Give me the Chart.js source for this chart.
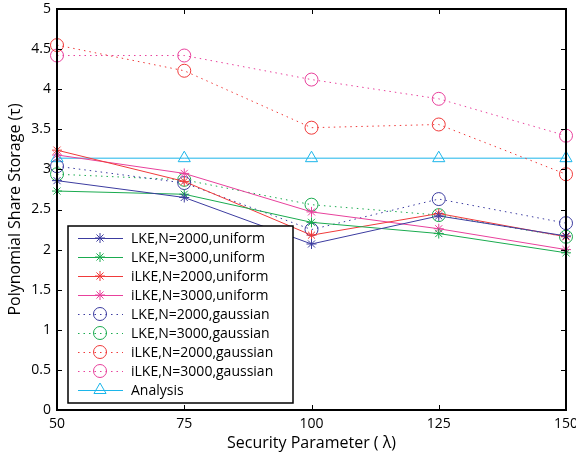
<!DOCTYPE html>
<html lang="en">
<head>
  <meta charset="UTF-8">
  <title>Polynomial Share Storage</title>
  <script src="https://cdn.jsdelivr.net/npm/chart.js"></script>
  <style>
    html, body { margin: 0; padding: 0; background: #fff; }
  </style>
</head>
<body>
  <canvas id="chart" width="576" height="460"></canvas>
  <script>
    // data
    const lambdas = [50, 75, 100, 125, 150];
    const yTicks = [0, 0.5, 1, 1.5, 2, 2.5, 3, 3.5, 4, 4.5, 5];

    const lkeUni2000  = [2.86, 2.65, 2.07, 2.42, 2.17];
    const lkeUni3000  = [2.73, 2.69, 2.34, 2.20, 1.96];
    const ilkeUni2000 = [3.24, 2.85, 2.18, 2.45, 2.16];
    const ilkeUni3000 = [3.18, 2.95, 2.47, 2.26, 2.00];
    const lkeGau2000  = [3.04, 2.83, 2.25, 2.63, 2.33];
    const lkeGau3000  = [2.94, 2.87, 2.56, 2.43, 2.16];
    const ilkeGau2000 = [4.55, 4.23, 3.52, 3.56, 2.94];
    const ilkeGau3000 = [4.42, 4.42, 4.12, 3.88, 3.42];
    const analysis    = [3.14, 3.14, 3.14, 3.14, 3.14];

    const BLUE = '#3c3ca0', GREEN = '#1aab4f', RED = '#f03a3a', MAGENTA = '#e8419c', CYAN = '#1cb6ea';
    const FONT = '"Open Sans", "DejaVu Sans", sans-serif';

    const pts = vals => vals.map((v, i) => ({ x: lambdas[i], y: v }));

    function series(label, vals, color, kind) {
      const ds = {
        label: label,
        data: pts(vals),
        borderColor: color,
        backgroundColor: 'rgba(0,0,0,0)',
        pointBorderColor: color,
        pointBackgroundColor: 'rgba(0,0,0,0)',
        borderWidth: 1,
        pointBorderWidth: 1,
        tension: 0,
        clip: false
      };
      if (kind === 'star') {
        ds.pointStyle = 'star';
        ds.pointRadius = 5;
      } else if (kind === 'circle') {
        ds.pointStyle = 'circle';
        ds.pointRadius = 6.5;
        ds.borderDash = [1.5, 4];
      } else {
        ds.pointStyle = 'triangle';
        ds.pointRadius = 7;
      }
      return ds;
    }

    const datasets = [
      series('LKE,N=2000,uniform', lkeUni2000, BLUE, 'star'),
      series('LKE,N=3000,uniform', lkeUni3000, GREEN, 'star'),
      series('iLKE,N=2000,uniform', ilkeUni2000, RED, 'star'),
      series('iLKE,N=3000,uniform', ilkeUni3000, MAGENTA, 'star'),
      series('LKE,N=2000,gaussian', lkeGau2000, BLUE, 'circle'),
      series('LKE,N=3000,gaussian', lkeGau3000, GREEN, 'circle'),
      series('iLKE,N=2000,gaussian', ilkeGau2000, RED, 'circle'),
      series('iLKE,N=3000,gaussian', ilkeGau3000, MAGENTA, 'circle'),
      series('Analysis', analysis, CYAN, 'triangle')
    ];

    // box, inward ticks on all four sides, and the boxed legend
    const matlabFrame = {
      id: 'matlabFrame',
      afterDraw(chart) {
        const ctx = chart.ctx;
        const a = chart.chartArea;
        const xs = chart.scales.x, ys = chart.scales.y;
        ctx.save();
        ctx.strokeStyle = '#000';
        ctx.lineWidth = 1;
        const tl = 5;
        ctx.beginPath();
        lambdas.forEach(v => {
          const px = Math.round(xs.getPixelForValue(v)) + 0.5;
          ctx.moveTo(px, a.bottom); ctx.lineTo(px, a.bottom - tl);
          ctx.moveTo(px, a.top); ctx.lineTo(px, a.top + tl);
        });
        yTicks.forEach(v => {
          const py = Math.round(ys.getPixelForValue(v)) + 0.5;
          ctx.moveTo(a.left, py); ctx.lineTo(a.left + tl, py);
          ctx.moveTo(a.right, py); ctx.lineTo(a.right - tl, py);
        });
        ctx.stroke();
        ctx.lineWidth = 2;
        ctx.strokeRect(a.left, a.top, a.right - a.left, a.bottom - a.top);

        // legend
        const lx = 68, ly = 226, lw = 225, lh = 177, row = 19;
        ctx.fillStyle = '#fff';
        ctx.fillRect(lx, ly, lw, lh);
        ctx.lineWidth = 1.5;
        ctx.strokeStyle = '#000';
        ctx.strokeRect(lx, ly, lw, lh);
        ctx.font = '14px ' + FONT;
        ctx.textBaseline = 'middle';
        ctx.textAlign = 'left';
        chart.data.datasets.forEach((ds, i) => {
          const y = ly + 12 + i * row;
          ctx.strokeStyle = ds.borderColor;
          ctx.lineWidth = 1;
          ctx.setLineDash(ds.borderDash || []);
          ctx.beginPath();
          ctx.moveTo(lx + 10, y + 0.5);
          ctx.lineTo(lx + 55, y + 0.5);
          ctx.stroke();
          ctx.setLineDash([]);
          ctx.fillStyle = 'rgba(0,0,0,0)';
          Chart.helpers.drawPoint(ctx, {
            pointStyle: ds.pointStyle,
            radius: ds.pointRadius,
            borderWidth: 1
          }, lx + 32, y);
          ctx.fillStyle = '#000';
          ctx.fillText(ds.label, lx + 63, y + 1);
        });
        ctx.restore();
      }
    };

    new Chart(document.getElementById('chart'), {
      type: 'line',
      data: { datasets: datasets },
      options: {
        responsive: false,
        animation: false,
        layout: { autoPadding: false, padding: { top: 9, right: 10, left: 0, bottom: 0 } },
        plugins: {
          legend: { display: false },
          tooltip: { enabled: false }
        },
        scales: {
          x: {
            type: 'linear',
            min: 50,
            max: 150,
            afterFit: s => { s.height = 50; s.paddingLeft = 0; s.paddingRight = 0; },
            afterBuildTicks: s => { s.ticks = lambdas.map(v => ({ value: v })); },
            grid: { display: false, drawTicks: false },
            border: { display: false },
            ticks: { color: '#000', font: { family: FONT, size: 14 }, padding: 6, maxRotation: 0 },
            title: {
              display: true,
              text: 'Security Parameter ( λ)',
              color: '#000',
              font: { family: FONT, size: 16 },
              padding: { top: 0, bottom: 7 }
            }
          },
          y: {
            min: 0,
            max: 5,
            afterFit: s => { s.width = 57; s.paddingTop = 0; s.paddingBottom = 0; },
            afterBuildTicks: s => { s.ticks = yTicks.map(v => ({ value: v })); },
            grid: { display: false, drawTicks: false },
            border: { display: false },
            ticks: { color: '#000', font: { family: FONT, size: 14 }, padding: 6, callback: v => String(v) },
            title: {
              display: true,
              text: 'Polynomial Share Storage (τ)',
              color: '#000',
              font: { family: FONT, size: 16 },
              padding: { top: 6, bottom: 0 }
            }
          }
        }
      },
      plugins: [matlabFrame]
    });
  </script>
</body>
</html>
